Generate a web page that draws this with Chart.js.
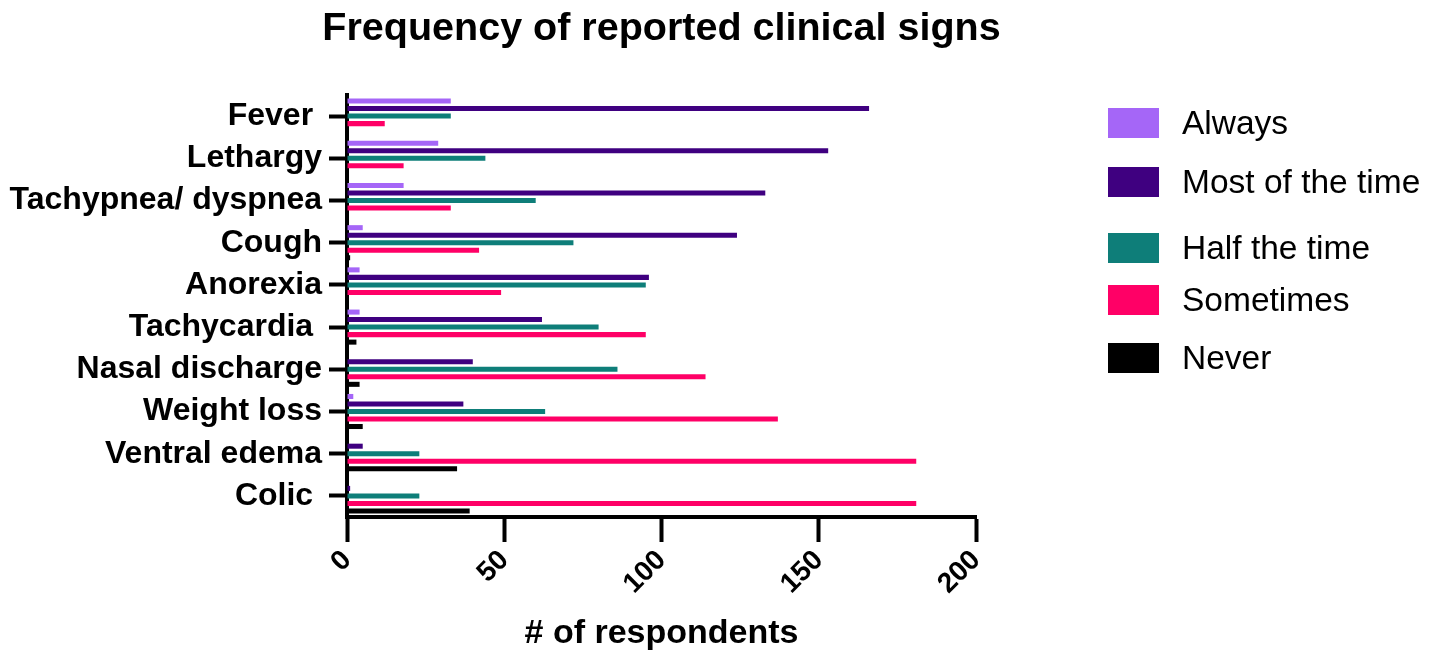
<!DOCTYPE html>
<html>
<head>
<meta charset="utf-8">
<script src="https://cdn.jsdelivr.net/npm/chart.js@4/dist/chart.umd.min.js"></script>
<style>
  html, body { margin: 0; padding: 0; background: #fff; }
  #wrap { position: relative; width: 1430px; height: 661px; }
  #c { position: absolute; left: 0; top: 0; }
  .lg { position: absolute; left: 1108px; display: flex; align-items: center; font-family: Arial, "Liberation Sans", Helvetica, sans-serif; font-size: 33.5px; color: #000; white-space: nowrap; }
  .lg .box { width: 51px; height: 30px; margin-right: 23px; }
</style>
</head>
<body>
<div id="wrap">
  <canvas id="c" width="1430" height="661"></canvas>
  <div id="legend"></div>
</div>
<script>
const categories = ["Fever ", "Lethargy", "Tachypnea/ dyspnea", "Cough", "Anorexia", "Tachycardia ", "Nasal discharge", "Weight loss", "Ventral edema", "Colic "];
const seriesNames = ["Always", "Most of the time", "Half the time", "Sometimes", "Never"];
const always    = [33, 29, 18, 5, 4, 4, 0, 2, 0, 0];
const mostTime  = [166, 153, 133, 124, 96, 62, 40, 37, 5, 1];
const halfTime  = [33, 44, 60, 72, 95, 80, 86, 63, 23, 23];
const sometimes = [12, 18, 33, 42, 49, 95, 114, 137, 181, 181];
const never     = [0, 0, 0, 1, 0, 3, 4, 5, 35, 39];
const xTicks = [0, 50, 100, 150, 200];
const colors = ["#A566F7", "#3F0080", "#0E7E79", "#FF0066", "#000000"];

const titleText = "Frequency of reported clinical signs";
const xTitleText = "# of respondents";
const sans = 'Arial, "Liberation Sans", Helvetica, sans-serif';

const textPlugin = {
  id: 'texts',
  afterDraw(chart) {
    const ctx = chart.ctx;
    const ca = chart.chartArea;
    const cx = (ca.left + ca.right) / 2;
    ctx.save();
    ctx.fillStyle = '#000';
    ctx.textAlign = 'center';
    ctx.textBaseline = 'alphabetic';
    ctx.font = 'bold 39.5px ' + sans;
    ctx.fillText(titleText, cx, 39.5);
    ctx.font = 'bold 34px ' + sans;
    ctx.fillText(xTitleText, cx, 643);
    ctx.restore();
  }
};

const seriesData = [always, mostTime, halfTime, sometimes, never];
const datasets = seriesNames.map((n, i) => ({
  label: n,
  data: seriesData[i],
  backgroundColor: colors[i],
  borderWidth: 0,
  categoryPercentage: 0.89,
  barPercentage: 0.67
}));

new Chart(document.getElementById('c'), {
  type: 'bar',
  data: { labels: categories, datasets },
  options: {
    indexAxis: 'y',
    responsive: false,
    animation: false,
    devicePixelRatio: 1,
    layout: { padding: { top: 95, right: 454, left: 0, bottom: 0 } },
    plugins: { legend: { display: false }, tooltip: { enabled: false }, title: { display: false } },
    scales: {
      x: {
        type: 'linear',
        min: 0, max: 200,
        afterBuildTicks(scale) { scale.ticks = xTicks.map(v => ({ value: v })); },
        afterFit(scale) { scale.height = 144; },
        ticks: {
          color: '#000',
          font: { family: sans, size: 28, weight: 'bold' },
          minRotation: 45, maxRotation: 45,
          padding: 2
        },
        grid: { drawOnChartArea: false, drawTicks: true, tickLength: 25, tickWidth: 4, tickColor: '#000' },
        border: { display: true, color: '#000', width: 4 },
        title: { display: false }
      },
      y: {
        type: 'category',
        afterFit(scale) { scale.width = 347; },
        ticks: {
          color: '#000',
          font: { family: sans, size: 32, weight: 'bold' },
          padding: 7,
          autoSkip: false
        },
        grid: { offset: false, drawOnChartArea: false, drawTicks: true, tickLength: 18, tickWidth: 4, tickColor: '#000' },
        border: { display: true, color: '#000', width: 4 }
      }
    }
  },
  plugins: [textPlugin]
});

const legendTops = [108, 167, 233, 285, 343];
const lg = document.getElementById('legend');
seriesNames.forEach((n, i) => {
  const row = document.createElement('div');
  row.className = 'lg';
  row.style.top = (legendTops[i] - 5) + 'px';
  row.style.height = '40px';
  const b = document.createElement('div');
  b.className = 'box';
  b.style.background = colors[i];
  const t = document.createElement('span');
  t.textContent = n;
  row.appendChild(b);
  row.appendChild(t);
  lg.appendChild(row);
});
</script>
</body>
</html>
